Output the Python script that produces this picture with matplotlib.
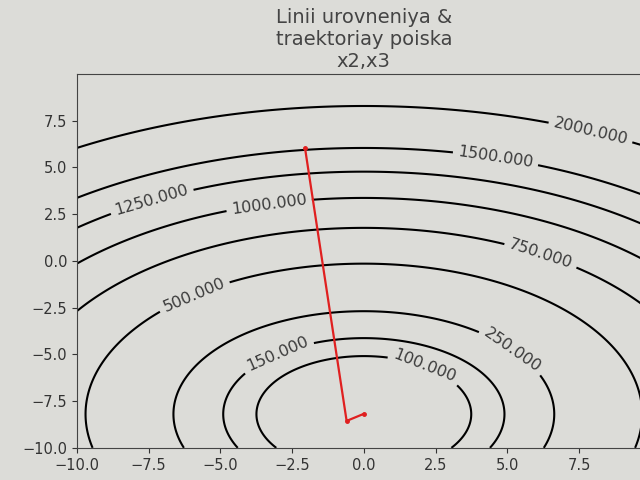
import numpy as np
import matplotlib
matplotlib.use('Agg')
import matplotlib.pyplot as plt

# surface parameters (x2, x3 plane)
F_MIN = 30.0
COEF_X2 = 5.0
COEF_X3 = 7.25
CENTER_X2 = 0.0
CENTER_X3 = -8.2

levels = [100, 150, 250, 500, 750, 1000, 1250, 1500, 2000]
label_spots = [(2.1, -5.7), (-3.0, -5.0), (5.2, -4.7), (-5.9, -1.9),
               (6.2, 0.5), (-3.3, 3.0), (-7.4, 3.3), (4.6, 5.6), (7.9, 6.9)]

path_x2 = [-2.05, -0.6, 0.0]
path_x3 = [6.04, -8.56, -8.18]

def surface(x2, x3):
    return F_MIN + COEF_X2 * (x2 - CENTER_X2) ** 2 + COEF_X3 * (x3 - CENTER_X3) ** 2

grid = np.linspace(-10, 10, 400)
X2, X3 = np.meshgrid(grid, grid)
Z = surface(X2, X3)

bg = '#dcdcd8'
fig = plt.figure(figsize=(6.4, 4.8), dpi=100, facecolor=bg)
ax = fig.add_axes([0.120, 0.067, 0.897, 0.779], facecolor=bg)

cs = ax.contour(X2, X3, Z, levels=levels, colors='k', linewidths=1.5)
ax.clabel(cs, fmt='%.3f', fontsize=11.5, colors='#3a3a3a', manual=label_spots)

ax.plot(path_x2, path_x3, '.-', color='#e02020', lw=1.6, ms=5)

ax.set_xlim(-10, 10)
ax.set_ylim(-10, 10)
ax.set_xticks(np.arange(-10, 10, 2.5))
ax.set_yticks(np.arange(-10, 10, 2.5))
ax.tick_params(labelsize=10.5, colors='#333333')
for s in ax.spines.values():
    s.set_color('#444444')

ax.set_title('Linii urovneniya &\ntraektoriay poiska\nx2,x3', fontsize=14,
             color='#444444', pad=5)

fig.savefig('out.png', dpi=100, facecolor=bg)
